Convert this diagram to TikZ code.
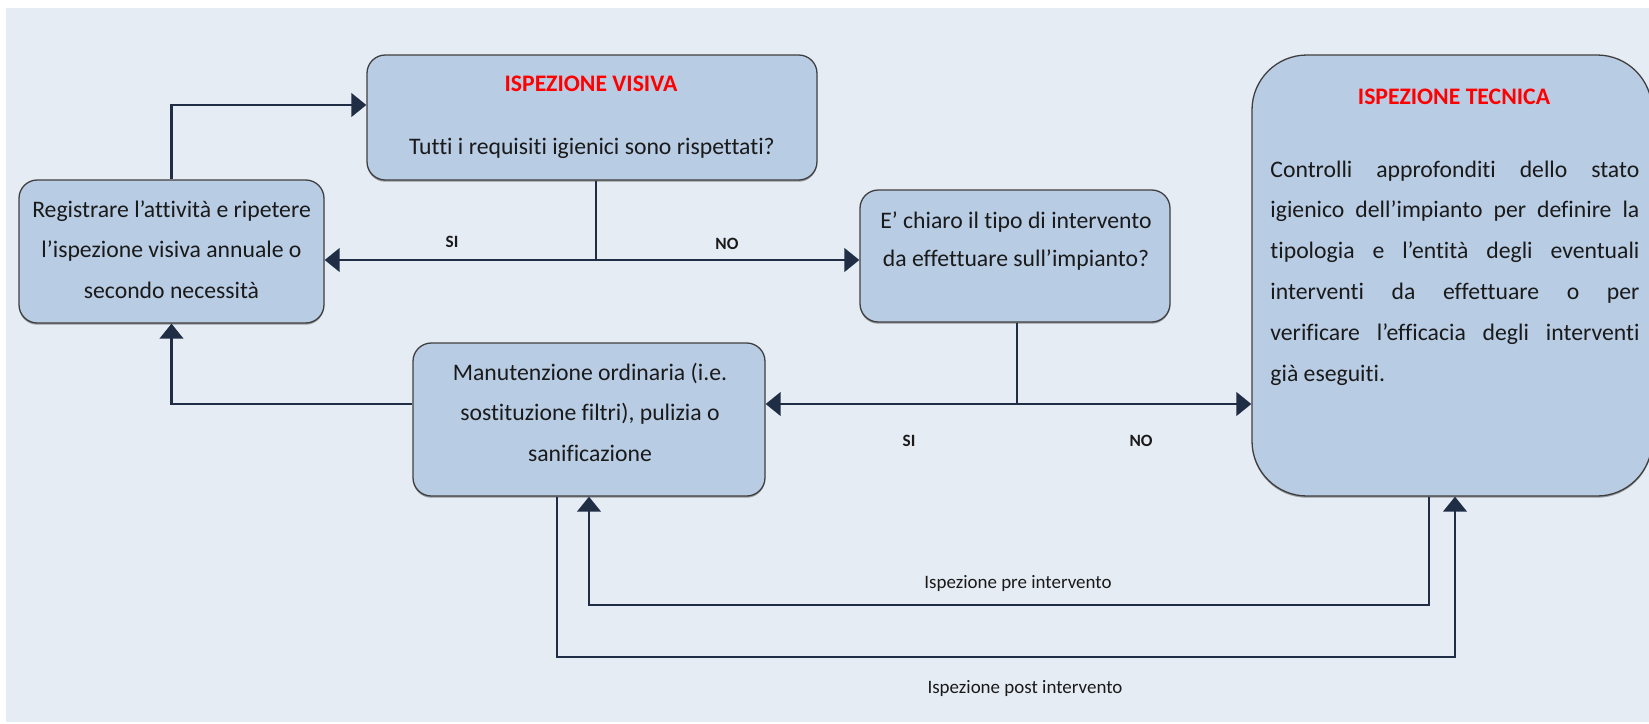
\documentclass[tikz,border=0pt]{standalone}
\usepackage{fontspec}
\setmainfont{Carlito}[Ligatures={NoCommon}]
\usetikzlibrary{arrows.meta,shadows}
\def\pu{0.4641pt}
\definecolor{bgc}{HTML}{E6ECF4}
\definecolor{boxfill}{HTML}{B8CCE4}
\definecolor{boxline}{HTML}{3F3F3F}
\definecolor{conncol}{HTML}{1F2D45}
\definecolor{txt}{HTML}{1A1A1A}
\definecolor{titlered}{HTML}{FF0000}
\begin{document}
\begin{tikzpicture}[x=0.4641pt, y=-0.4641pt,
  boxstyle/.style={draw=boxline, line width=0.6pt, fill=boxfill, rounded corners=8.5pt, inner sep=0pt,
    drop shadow={shadow xshift=0pt, shadow yshift=-0.8pt, fill=black, opacity=0.35}},
  bodytext/.style={font=\fontsize{11}{13}\selectfont, text=txt, inner sep=0pt, anchor=base},
  titletext/.style={font=\fontsize{11}{13}\selectfont\bfseries, text=titlered, inner sep=0pt, anchor=base},
  yesno/.style={font=\fontsize{8}{10}\selectfont\bfseries, text=txt, inner sep=0pt, anchor=base},
  smalltext/.style={font=\fontsize{8.8}{10}\selectfont, text=txt, inner sep=0pt, anchor=base},
  justline/.style={bodytext, anchor=base west},
  connline/.style={draw=conncol, line width=1.15pt},
  connector/.style={connline, -{Triangle[length=7pt,width=11pt]}}]

\useasboundingbox (0,0) rectangle (1649,723);
\fill[white] (0,0) rectangle (1649,723);
\fill[bgc] (6,8) rectangle (1649,722);

% boxes
\node[boxstyle, minimum width=450*\pu, minimum height=125*\pu] (b1) at (592,117.5) {};
\node[boxstyle, minimum width=305*\pu, minimum height=143*\pu] (b2) at (171.5,251.5) {};
\node[boxstyle, minimum width=310*\pu, minimum height=132*\pu] (b3) at (1015,256) {};
\node[boxstyle, minimum width=352*\pu, minimum height=153*\pu] (b4) at (589,419.5) {};
\node[boxstyle, rounded corners=25.5pt, minimum width=400*\pu, minimum height=441*\pu] (b5) at (1452,275.5) {};

% texts
\node[titletext] (t1a) at (591,91) {ISPEZIONE VISIVA};
\node[bodytext] (t1b) at (592,154) {Tutti i requisiti igienici sono rispettati?};

\node[bodytext] (t2a) at (171.5,217) {Registrare l’attività e ripetere};
\node[bodytext] (t2b) at (171.5,257.5) {l’ispezione visiva annuale o};
\node[bodytext] (t2c) at (171.5,298) {secondo necessità};

\node[bodytext] (t3a) at (1016,228) {E’ chiaro il tipo di intervento};
\node[bodytext] (t3b) at (1016,266) {da effettuare sull’impianto?};

\node[bodytext] (t4a) at (590,380) {Manutenzione ordinaria (i.e.};
\node[bodytext] (t4b) at (590,420.5) {sostituzione filtri), pulizia o};
\node[bodytext] (t4c) at (590,461) {sanificazione};

\node[titletext] (t5) at (1454,104) {ISPEZIONE TECNICA};
\node[justline] (c1) at (1270,177) {\makebox[171.25pt][s]{Controlli approfonditi dello stato}};
\node[justline] (c2) at (1270,217.8) {\makebox[171.25pt][s]{igienico dell’impianto per definire la}};
\node[justline] (c3) at (1270,258.6) {\makebox[171.25pt][s]{tipologia e l’entità degli eventuali}};
\node[justline] (c4) at (1270,299.4) {\makebox[171.25pt][s]{interventi da effettuare o per}};
\node[justline] (c5) at (1270,340.2) {\makebox[171.25pt][s]{verificare l’efficacia degli interventi}};
\node[justline] (c6) at (1270,381) {già eseguiti.};

% labels
\node[yesno] (si1) at (452,247) {SI};
\node[yesno] (no1) at (727,249) {NO};
\node[yesno] (si2) at (909,446) {SI};
\node[yesno] (no2) at (1141,446) {NO};
\node[smalltext] (lpre) at (1018,588) {Ispezione pre intervento};
\node[smalltext] (lpost) at (1025,693) {Ispezione post intervento};

% connectors
\coordinate (ytop) at (0,105);
\draw[connector] (b2.north) |- (b1.west |- ytop);
\coordinate (j1) at (596,260);
\draw[connline] (j1 |- b1.south) -- (j1);
\draw[connector] (j1) -- (b2.east |- j1);
\draw[connector] (j1) -- (b3.west |- j1);
\coordinate (j2) at (1017,404);
\draw[connline] (j2 |- b3.south) -- (j2);
\draw[connector] (j2) -- (b4.east |- j2);
\draw[connector] (j2) -- (b5.west |- j2);
\draw[connector] (b4.west |- j2) -| (b2.south);
\coordinate (pre) at (1429,605);
\draw[connector] (pre |- b5.south) -- (pre) -| (b4.south);
\coordinate (postL) at (557,657);
\coordinate (postR) at (1455,657);
\draw[connector] (postL |- b4.south) -- (postL) -- (postR) -- (postR |- b5.south);
\end{tikzpicture}
\end{document}
